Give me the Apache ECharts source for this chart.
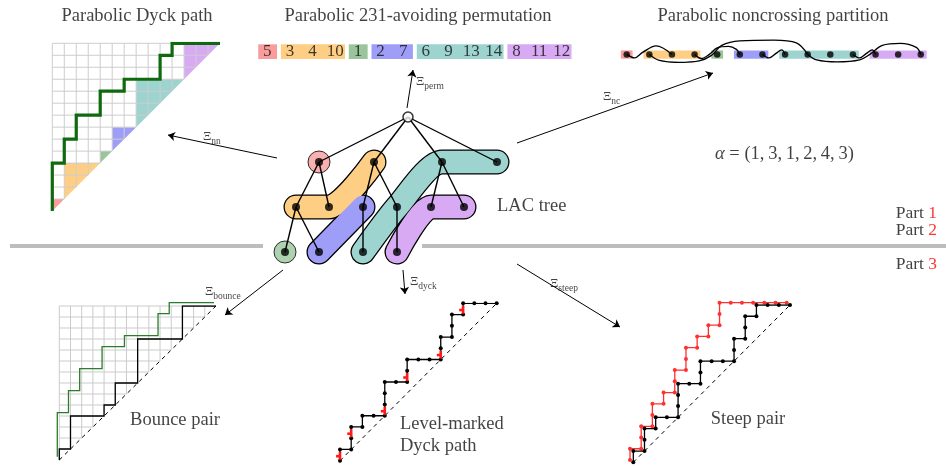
<!DOCTYPE html>
<html><head><meta charset="utf-8">
<script src="https://cdn.jsdelivr.net/npm/echarts@6/dist/echarts.min.js"></script>
<style>html,body{margin:0;padding:0;background:#fff}#c{width:946px;height:466px}</style>
</head><body><div id="c"></div>
<script>
// ---------- data ----------
const alpha = [1,3,1,2,4,3];
const blockColors = ['#f89c9c','#fdce83','#9ac59c','#9e9ef8','#9dd4d0','#d8aaf4'];
const perm = [5,3,4,10,1,2,7,6,9,13,14,8,11,12];
const nnPathRuns = [4,1,2,1,2,2,2,2,1,3,2,1,1,4];          // alternating Up, Right
const bouncePathRuns = [1,1,3,3,1,1,2,2,4,4,3,3];
const levelPathRuns = [1,1,2,1,1,2,3,2,2,3,2,1,2,1,1,3];
const steepPathRuns = [1,1,2,1,2,1,1,1,2,1,2,1,1,1,1,1,2,6];
const levelMarks = [[0,0],[1,2],[4,4],[6,7],[9,9],[11,13]];
const treeNodes = {root:[408,117], r:[319,162], o:[374,162], t1:[442,162], t2:[497,162],
  a:[296,207], b:[329,207], c:[363,207], d:[397,207], e:[431,207], f:[464,207],
  g:[285,252], h:[319,252], i:[363,252], j:[397,252]};
const treeEdges = [['root','r'],['root','o'],['root','t1'],['root','t2'],['r','a'],['r','b'],
  ['o','c'],['o','d'],['t1','e'],['t1','f'],['a','g'],['a','h'],['c','i'],['d','j']];
const treeBlobs = [[0,['r']],[1,['a','b','o']],[2,['g']],[3,['h','c']],[4,['i','d','t1','t2']],[5,['j','e','f']]];
const ncArcs = [
  [[1,0],[1.35,-3.5],[1.7,2],[2.3,8.5],[3,0]],
  [[2,0],[2.45,-6],[3.3,-8],[4.2,-6.5],[4.75,-1],[5.2,9],[6,13.5],[7.5,14.2],[8.5,11.5],[9,0]],
  [[4,0],[4.3,-4],[4.65,0],[5,6.5],[5.5,8],[5.85,5],[6,0]],
  [[7,0],[7.3,-3.5],[7.6,1],[7.85,4.5],[8,0]],
  [[9,0],[9.4,-5.5],[10.3,-7.5],[11.3,-5.5],[11.75,0],[12.3,9],[13.1,11],[13.8,7],[14,0]],
  [[11,0],[11.3,-3.5],[11.6,1],[11.85,4.5],[12,0]]
];
const arrows = [
  {from:[277,158], to:[168,135], label:['Ξ','nn'], at:[203,137]},
  {from:[407,108], to:[413,70], label:['Ξ','perm'], at:[416,82]},
  {from:[517,143], to:[713,73], label:['Ξ','nc'], at:[603,97]},
  {from:[283,270], to:[225,315], label:['Ξ','bounce'], at:[205,292]},
  {from:[403,270], to:[405,294], label:['Ξ','dyck'], at:[410,282]},
  {from:[517,264], to:[620,327], label:['Ξ','steep'], at:[550,284]}
];
const titles = [
  {t:'Parabolic Dyck path', x:137, y:16},
  {t:'Parabolic 231-avoiding permutation', x:418, y:16},
  {t:'Parabolic noncrossing partition', x:773, y:16}
];
const captions = [
  {t:'LAC tree', x:497, y:206, align:'left'},
  {t:'Bounce pair', x:175, y:420, align:'center'},
  {t:'Level-marked', x:400, y:424, align:'left'},
  {t:'Dyck path', x:400, y:446, align:'left'},
  {t:'Steep pair', x:748, y:419, align:'center'}
];
const partLabels = [['1',213],['2',230],['3',264]];

// ---------- helpers ----------
const FONT = "'Liberation Serif', 'DejaVu Serif', serif";
const grids=[], xAxes=[], yAxes=[], series=[];
function addGrid(left,top,w,h,xmin,xmax,ymin,ymax,inverse){
  grids.push({left:left,top:top,width:w,height:h});
  xAxes.push({type:'value',gridIndex:grids.length-1,min:xmin,max:xmax,show:false});
  yAxes.push({type:'value',gridIndex:grids.length-1,min:ymin,max:ymax,show:false,inverse:!!inverse});
  return grids.length-1;
}
function runsToPts(runs){
  let x=0,y=0; const pts=[[0,0]];
  runs.forEach((n,k)=>{ for(let s=0;s<n;s++){ if(k%2===0) y++; else x++; pts.push([x,y]); } });
  return pts;
}
function segSeries(g, segs, style, z){
  series.push({type:'custom', xAxisIndex:g, yAxisIndex:g, silent:true, data:segs, z:z||2,
    renderItem:(p,api)=>{
      const a=api.coord([api.value(0),api.value(1)]), b=api.coord([api.value(2),api.value(3)]);
      return {type:'line', shape:{x1:a[0],y1:a[1],x2:b[0],y2:b[1]},
        style:Object.assign({stroke:'#000',lineWidth:1},style)};
    }});
}
function polySeries(g, polys, colors, z){
  series.push({type:'custom', xAxisIndex:g, yAxisIndex:g, silent:true, z:z||1,
    data:polys.map((p,i)=>[i,0]),
    renderItem:(p,api)=>{
      const i=api.value(0);
      return {type:'polygon', shape:{points:polys[i].map(q=>api.coord(q))}, style:{fill:colors[i]}};
    }});
}
function pathSeries(g, pts, color, width, dotSize, z){
  series.push({type:'line', xAxisIndex:g, yAxisIndex:g, data:pts, silent:true, z:z||3,
    showSymbol:!!dotSize, symbol:'circle', symbolSize:dotSize||0,
    itemStyle:{color:color}, lineStyle:{color:color,width:width,join:'miter'}});
}
function latticeLines(n){
  const s=[];
  for(let c=0;c<=n;c++){ s.push([c,c,c,n]); s.push([0,c,c,c]); }
  return s;
}
const blockStarts = alpha.reduce((acc,k,i)=>{acc.push(i?acc[i-1]+alpha[i-1]:0);return acc;},[]);

// ---------- full canvas grid (pixel units) ----------
const G0 = addGrid(0,0,946,466,0,946,0,466,true);

// ---------- Parabolic Dyck path ----------
const G1 = addGrid(52.3,43.3,167.7,167.7,0,14,0,14);
polySeries(G1, alpha.map((k,i)=>{const s=blockStarts[i];return [[s,s],[s,s+k],[s+k,s+k]];}), blockColors, 1);
segSeries(G1, latticeLines(14), {stroke:'#cdcdcd', lineWidth:1}, 2);
pathSeries(G1, runsToPts(nnPathRuns), '#0f6a0f', 3.2, 0, 3);

// ---------- Permutation ----------
const G2 = addGrid(244.65,44.3,339.75,14.7,0,15,0,1);
polySeries(G2, alpha.map((k,i)=>{const s=blockStarts[i]+1,e=s+k-1;return [[s-0.4,0],[e+0.43,0],[e+0.43,1],[s-0.4,1]];}), blockColors, 1);
series.push({type:'scatter', xAxisIndex:G2, yAxisIndex:G2, silent:true, symbolSize:1, z:5, itemStyle:{color:'transparent'},
  data:perm.map((v,i)=>({value:[i+1,0.5], label:{show:true, position:'inside', formatter:String(v),
    color:'#111', fontFamily:FONT, fontSize:17}}))});

// ---------- Noncrossing partition ----------
const G3 = addGrid(604.1,38.4,339.3,24,0,15,-8,16);
polySeries(G3, alpha.map((k,i)=>{const s=blockStarts[i]+1,e=s+k-1;return [[s-0.26,-4.3],[e+0.26,-4.3],[e+0.26,4],[s-0.26,4]];}), blockColors, 1);
ncArcs.forEach(a=>series.push({type:'line', xAxisIndex:G3, yAxisIndex:G3, data:a, smooth:0.35, silent:true, z:3,
  showSymbol:false, lineStyle:{color:'#000', width:1.3}}));
series.push({type:'scatter', xAxisIndex:G3, yAxisIndex:G3, silent:true, symbolSize:6.5, z:4, itemStyle:{color:'#000'},
  data:perm.map((v,i)=>[i+1,0])});

// ---------- Bounce pair ----------
const G4 = addGrid(59.3,306,156.7,154,0,14,0,14);
const G4g = addGrid(57.3,302.7,156.7,154,0,14,0,14);
segSeries(G4, latticeLines(14), {stroke:'#cbcbcb', lineWidth:1}, 1);
segSeries(G4, [[0,0,14,14]], {stroke:'#000', lineWidth:1, lineDash:[4,4]}, 2);
pathSeries(G4g, runsToPts(nnPathRuns), '#2a7d2a', 1.3, 0, 3);
pathSeries(G4, runsToPts(bouncePathRuns), '#000', 1.3, 0, 3);

// ---------- Level-marked Dyck path ----------
const G5 = addGrid(340,303.3,156.7,157.4,0,14,0,14);
segSeries(G5, [[0,0,14,14]], {stroke:'#000', lineWidth:1, lineDash:[4,4]}, 2);
pathSeries(G5, runsToPts(levelPathRuns), '#000', 1.3, 4, 3);
segSeries(G5, levelMarks.flatMap(m=>[[m[0],m[1]+0.08,m[0],m[1]+0.8],[m[0]-0.35,m[1]+0.4,m[0],m[1]+0.4]]),
  {stroke:'#ff1a1a', lineWidth:2.6}, 4);

// ---------- Steep pair ----------
const G6 = addGrid(633.3,305,156.7,157.3,0,14,0,14);
const G6r = addGrid(630,302.7,156.7,157.3,0,14,0,14);
segSeries(G6, [[0,0,14,14]], {stroke:'#000', lineWidth:1, lineDash:[4,4]}, 2);
pathSeries(G6r, runsToPts(steepPathRuns), '#ff3030', 1.3, 4, 3);
pathSeries(G6, runsToPts(levelPathRuns), '#000', 1.3, 4, 4);

// ---------- separators ----------
segSeries(G0, [[10,246,263,246],[422,246,946,246]], {stroke:'#bdbdbd', lineWidth:4}, 0);

// ---------- LAC tree ----------
treeBlobs.forEach(([ci,names])=>{
  const pts = names.map(n=>treeNodes[n]);
  if(pts.length===1){
    series.push({type:'scatter', xAxisIndex:G0, yAxisIndex:G0, silent:true, symbolSize:22, data:pts, z:1,
      itemStyle:{color:blockColors[ci], borderColor:'#000', borderWidth:1}});
  } else {
    series.push({type:'line', xAxisIndex:G0, yAxisIndex:G0, data:pts, silent:true, showSymbol:false, smooth:0.25, z:1,
      lineStyle:{color:'#000', width:25, cap:'round', join:'round'}});
    series.push({type:'line', xAxisIndex:G0, yAxisIndex:G0, data:pts, silent:true, showSymbol:false, smooth:0.25, z:1.5,
      lineStyle:{color:blockColors[ci], width:22.5, cap:'round', join:'round'}});
  }
});
segSeries(G0, treeEdges.map(([p,q])=>treeNodes[p].concat(treeNodes[q])), {stroke:'#000', lineWidth:1.4}, 6);
series.push({type:'scatter', xAxisIndex:G0, yAxisIndex:G0, silent:true, symbolSize:8, z:7, itemStyle:{color:'#000'},
  data:Object.keys(treeNodes).filter(k=>k!=='root').map(k=>treeNodes[k])});
series.push({type:'scatter', xAxisIndex:G0, yAxisIndex:G0, silent:true, symbolSize:10, z:7,
  itemStyle:{color:'#fff', borderColor:'#000', borderWidth:1.5}, data:[treeNodes.root]});

// ---------- arrows ----------
series.push({type:'lines', coordinateSystem:'cartesian2d', xAxisIndex:G0, yAxisIndex:G0, silent:true, z:5,
  symbol:['none','arrow'], symbolSize:7, lineStyle:{color:'#000', width:1, opacity:1},
  data:arrows.map(a=>({coords:[a.from,a.to]}))});

// ---------- texts ----------
const textData = [];
titles.forEach(t=>textData.push({value:[t.x,t.y], label:{formatter:t.t, fontSize:18.5, align:'center'}}));
captions.forEach(t=>textData.push({value:[t.x,t.y], label:{formatter:t.t, fontSize:18.5, align:t.align}}));
partLabels.forEach(([n,y])=>textData.push({value:[937,y], label:{formatter:'Part {r|'+n+'}', fontSize:17.5, align:'right',
  rich:{r:{color:'#ff0000', fontSize:17.5, fontFamily:FONT}}}}));
textData.push({value:[715,154], label:{formatter:'{i|α} = (' + alpha.join(',\u2009') + ')', fontSize:18.5, align:'left',
  rich:{i:{fontStyle:'italic', fontSize:18.5, fontFamily:FONT, color:'#111'}}}});
arrows.forEach(a=>textData.push({value:a.at, label:{formatter:'{x|'+a.label[0]+'}{s|'+a.label[1]+'}', align:'left',
  rich:{x:{fontSize:13, fontFamily:FONT, color:'#111'}, s:{fontSize:9.5, fontFamily:FONT, color:'#111', padding:[8,0,0,0]}}}}));
series.push({type:'scatter', xAxisIndex:G0, yAxisIndex:G0, silent:true, symbolSize:1, z:8, itemStyle:{color:'transparent'},
  data:textData.map(d=>({value:d.value, label:Object.assign({show:true, position:'inside', verticalAlign:'middle',
    color:'#111', fontFamily:FONT}, d.label)}))});

const chart = echarts.init(document.getElementById('c'), null, {renderer:'canvas'});
chart.setOption({animation:false, backgroundColor:'#fff', grid:grids, xAxis:xAxes, yAxis:yAxes, series:series});
</script></body></html>
